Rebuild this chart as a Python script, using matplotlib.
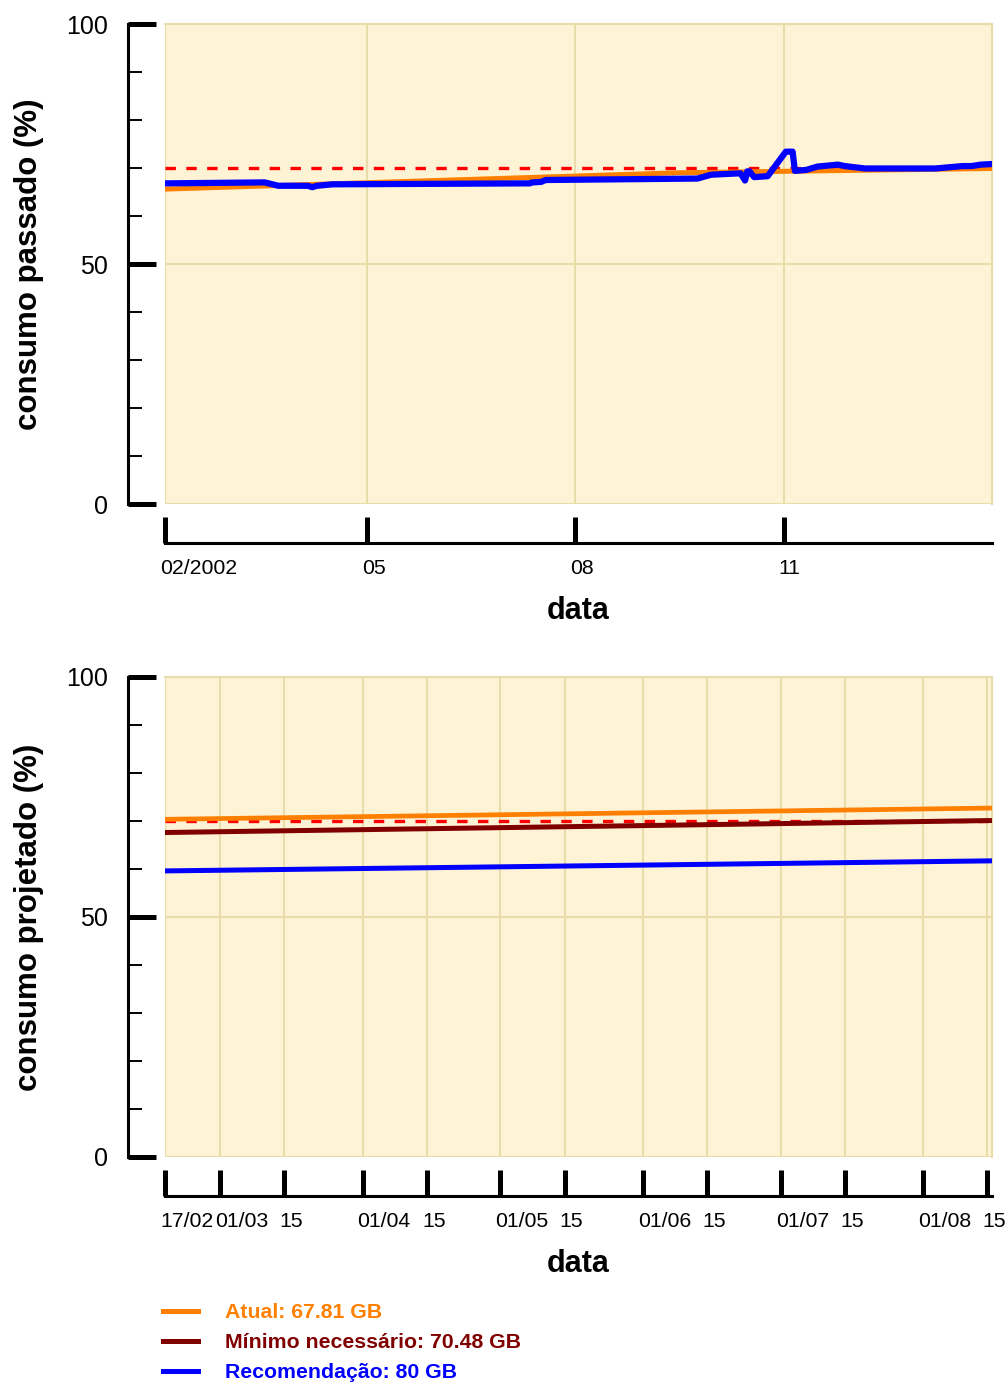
import matplotlib
matplotlib.use('Agg')
import matplotlib.pyplot as plt
import matplotlib.transforms as mtransforms
import numpy as np
from matplotlib.lines import Line2D

plt.rcParams['font.family'] = ['Liberation Sans', 'DejaVu Sans']
plt.rcParams['lines.scale_dashes'] = False

# consumo passado (02/2002 - 01/2003)
past_dates = ['2002-02-02', '2002-03-17', '2002-03-23', '2002-04-05', '2002-04-07',
              '2002-04-09', '2002-04-16', '2002-07-12', '2002-07-13', '2002-07-17',
              '2002-07-19', '2002-09-24', '2002-09-30', '2002-10-13', '2002-10-15',
              '2002-10-16', '2002-10-17', '2002-10-19', '2002-10-25', '2002-11-02',
              '2002-11-05', '2002-11-06', '2002-11-11', '2002-11-16', '2002-11-25',
              '2002-11-28', '2002-12-07', '2003-01-07', '2003-01-19', '2003-01-23',
              '2003-01-27', '2003-01-31']
past_recom = [66.8, 67.0, 66.3, 66.3, 66.0,
              66.3, 66.6, 66.8, 67.0, 67.1,
              67.5, 67.8, 68.6, 68.9, 67.4,
              69.3, 69.3, 68.1, 68.3, 73.4,
              73.4, 69.4, 69.6, 70.3, 70.7,
              70.4, 69.9, 69.9, 70.4, 70.4,
              70.7, 70.8]
past_atual_dates = ['2002-02-01', '2002-06-01', '2002-09-15', '2003-02-01']
past_atual = [65.6, 67.4, 69.0, 69.9]
limite = 70

past_ticks = ['2002-02-01', '2002-05-01', '2002-08-01', '2002-11-01']
past_tick_labels = ['02/2002', '05', '08', '11']
past_range = ['2002-02-01', '2003-02-01']

# consumo projetado (17/02 - 15/08)
proj_dates = ['2003-02-17', '2003-08-16']
proj_atual = [70.35, 72.7]
proj_minimo = [67.6, 70.1]
proj_recom = [59.6, 61.7]
proj_ticks = ['2003-02-17', '2003-03-01', '2003-03-15', '2003-04-01', '2003-04-15',
              '2003-05-01', '2003-05-15', '2003-06-01', '2003-06-15', '2003-07-01',
              '2003-07-15', '2003-08-01', '2003-08-15']
proj_tick_labels = ['17/02', '01/03', '15', '01/04', '15', '01/05', '15',
                    '01/06', '15', '01/07', '15', '01/08', '15']
proj_range = ['2003-02-17', '2003-08-16']

legend_labels = ['Atual: 67.81 GB', 'Mínimo necessário: 70.48 GB', 'Recomendação: 80 GB']

c_atual = '#ff8000'
c_minimo = '#800000'
c_recom = '#0000ff'
c_limite = '#ff0000'
bg = '#fff3d6'
grid_c = '#e8dcaa'

d = lambda v: np.array(v, dtype='datetime64[D]')

fig = plt.figure(figsize=(10.08, 13.82), dpi=100)
ax1 = fig.add_axes([165/1008, 1 - 504/1382, 827/1008, 480/1382])
ax2 = fig.add_axes([165/1008, 1 - 1157/1382, 827/1008, 480/1382])


def estilo(ax, xr, ticks, labels, ylabel):
    ax.set_facecolor(bg)
    ax.set_xlim(d(xr)[0], d(xr)[1])
    ax.set_ylim(0, 100)
    for s in ['top', 'right']:
        ax.spines[s].set_color(grid_c)
        ax.spines[s].set_linewidth(1.5)
    ax.spines['left'].set_position(('outward', 26.6))
    ax.spines['bottom'].set_position(('outward', 28))
    ax.spines['left'].set_bounds(0, 100)
    ax.spines['left'].set_linewidth(2.2)
    ax.spines['bottom'].set_linewidth(2.2)
    ax.set_yticks([0, 50, 100])
    ax.set_yticks([10, 20, 30, 40, 60, 70, 80, 90], minor=True)
    ax.tick_params(axis='y', which='major', direction='in', length=20, width=3.6,
                   pad=14.4, labelsize=18)
    ax.tick_params(axis='y', which='minor', direction='in', length=10, width=1.4)
    ax.set_xticks(d(ticks), labels)
    ax.tick_params(axis='x', which='major', direction='in', length=18.7, width=3.6,
                   pad=11.5, labelsize=15.3)
    ax.tick_params(axis='x', which='minor', length=0)
    off = mtransforms.ScaledTranslation(-5/100, 0, fig.dpi_scale_trans)
    for lbl in ax.get_xticklabels():
        lbl.set_horizontalalignment('left')
        lbl.set_transform(lbl.get_transform() + off)
    ax.grid(True, which='major', color=grid_c, linewidth=1.5)
    ax.set_axisbelow(True)
    ax.set_xlabel('data', fontsize=22, fontweight='bold', va='center')
    ax.xaxis.set_label_coords(0.5, -107/480)
    ax.set_ylabel(ylabel, fontsize=22.5, fontweight='bold', va='center')
    ax.yaxis.set_label_coords(-136/827, 0.5)


ax1.axhline(limite, color=c_limite, linewidth=2.4, dashes=(7.5, 7.5), zorder=2)
ax1.plot(d(past_atual_dates), past_atual, color=c_atual, linewidth=3.6, zorder=3)
ax1.plot(d(past_dates), past_recom, color=c_recom, linewidth=4.5, zorder=4)
estilo(ax1, past_range, past_ticks, past_tick_labels, 'consumo passado (%)')

ax2.axhline(limite, color=c_limite, linewidth=2.4, dashes=(7.5, 7.5), zorder=2)
ax2.plot(d(proj_dates), proj_atual, color=c_atual, linewidth=3.4, zorder=3)
ax2.plot(d(proj_dates), proj_minimo, color=c_minimo, linewidth=3.6, zorder=3)
ax2.plot(d(proj_dates), proj_recom, color=c_recom, linewidth=3.6, zorder=3)
estilo(ax2, proj_range, proj_ticks, proj_tick_labels, 'consumo projetado (%)')

handles = [Line2D([], [], color=c, linewidth=3.6) for c in [c_atual, c_minimo, c_recom]]
fig.legend(handles, legend_labels, loc='upper left',
           bbox_to_anchor=(163/1008, 1 - 1303/1382), frameon=False,
           prop={'size': 15.3, 'weight': 'bold'}, labelcolor='linecolor',
           handlelength=1.65, handletextpad=1.26, labelspacing=0.52,
           borderpad=0, borderaxespad=0)

fig.savefig('out.png', dpi=100)
